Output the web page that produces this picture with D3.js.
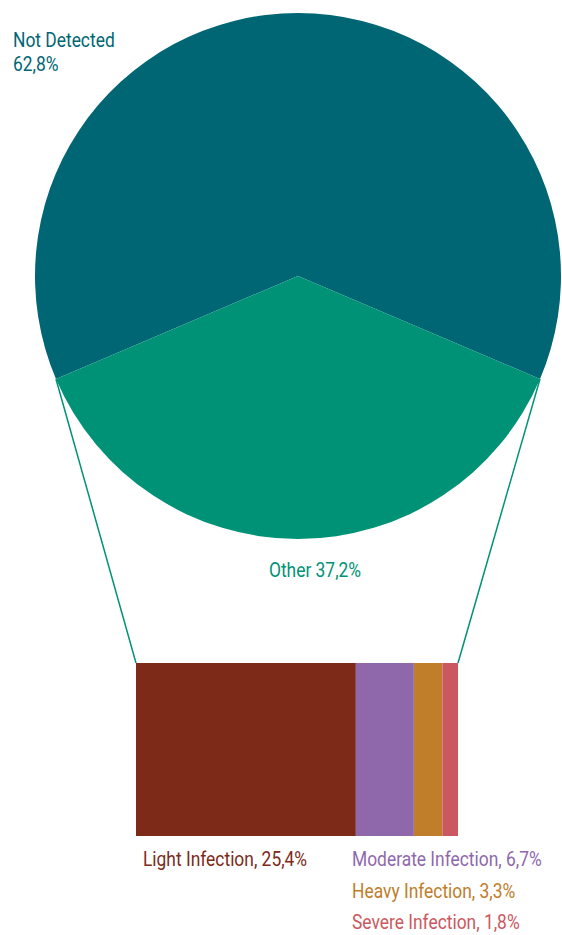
<!DOCTYPE html>
<html>
<head>
<meta charset="utf-8">
<script src="https://cdn.jsdelivr.net/npm/d3@7"></script>
<style>
  body { margin: 0; background: #fff; }
  text { font-family: "Roboto", "Liberation Sans", sans-serif; font-size: 20px; }
</style>
</head>
<body>
<div id="chart"></div>
<script>
// pie: share of all samples
var pieLabels = ["Not Detected", "Other"];
var pieValues = [62.8, 37.2];
var pieColors = ["#006674", "#009276"];

// bar: breakdown of "Other"
var barLabels = ["Light Infection", "Moderate Infection", "Heavy Infection", "Severe Infection"];
var barValues = [25.4, 6.7, 3.3, 1.8];
var barColors = ["#7d2a18", "#8f68ab", "#c07d2a", "#cb5860"];

function fmt(v) { return String(v.toFixed(1)).replace(".", ","); }

// condensed look: squeeze the text horizontally
var SX = 0.87;
function label(svg, x, y, color, str, anchor) {
    return svg.append("text")
        .attr("transform", "translate(" + x + "," + y + ") scale(" + SX + ",1)")
        .attr("text-anchor", anchor || "start")
        .attr("fill", color)
        .text(str);
}

function init() {
    var w = 562, h = 935;
    var cx = 298, cy = 276, r = 263;

    var svg = d3.select("#chart").append("svg")
        .attr("width", w).attr("height", h);

    var start = -pieValues[0] / 100 * Math.PI;
    var pie = d3.pie().sort(null).startAngle(start).endAngle(start + 2 * Math.PI);
    var arc = d3.arc().innerRadius(0).outerRadius(r);
    var arcs = pie(pieValues);

    var g = svg.append("g").attr("transform", "translate(" + cx + "," + cy + ")");
    g.selectAll("path").data(arcs).enter().append("path")
        .attr("fill", function(d, i) { return pieColors[i]; })
        .attr("d", arc);

    // bar of the "Other" slice
    var total = d3.sum(barValues);
    var x = d3.scaleLinear().domain([0, total]).range([136, 458]);
    var barTop = 663, barBottom = 836;
    var cum = 0;
    var segs = barValues.map(function(v) { var s = { x0: cum, x1: cum + v, v: v }; cum += v; return s; });

    svg.selectAll("rect.seg").data(segs).enter().append("rect")
        .attr("class", "seg")
        .attr("x", function(d) { return x(d.x0); })
        .attr("width", function(d) { return x(d.x1) - x(d.x0); })
        .attr("y", barTop)
        .attr("height", barBottom - barTop)
        .attr("fill", function(d, i) { return barColors[i]; });

    // connector lines from the Other slice edges to the bar corners
    var o = arcs[1];
    function pt(a) { return [cx + r * Math.sin(a), cy - r * Math.cos(a)]; }
    var pRight = pt(o.startAngle), pLeft = pt(o.endAngle);
    svg.append("line")
        .attr("x1", pLeft[0]).attr("y1", pLeft[1])
        .attr("x2", x(0)).attr("y2", barTop)
        .attr("stroke", pieColors[1]).attr("stroke-width", 1.5);
    svg.append("line")
        .attr("x1", pRight[0]).attr("y1", pRight[1])
        .attr("x2", x(total)).attr("y2", barTop)
        .attr("stroke", pieColors[1]).attr("stroke-width", 1.5);

    // pie labels
    label(svg, 13, 47, pieColors[0], pieLabels[0]);
    label(svg, 13, 71, pieColors[0], fmt(pieValues[0]) + "%");
    label(svg, 315, 577, pieColors[1], pieLabels[1] + " " + fmt(pieValues[1]) + "%", "middle");

    // bar labels
    var lx = [143, 352, 352, 352], ly = [866, 866, 898, 929];
    barLabels.forEach(function(d, i) {
        label(svg, lx[i], ly[i], barColors[i], d + ", " + fmt(barValues[i]) + "%");
    });
}
window.onload = init;
</script>
</body>
</html>
